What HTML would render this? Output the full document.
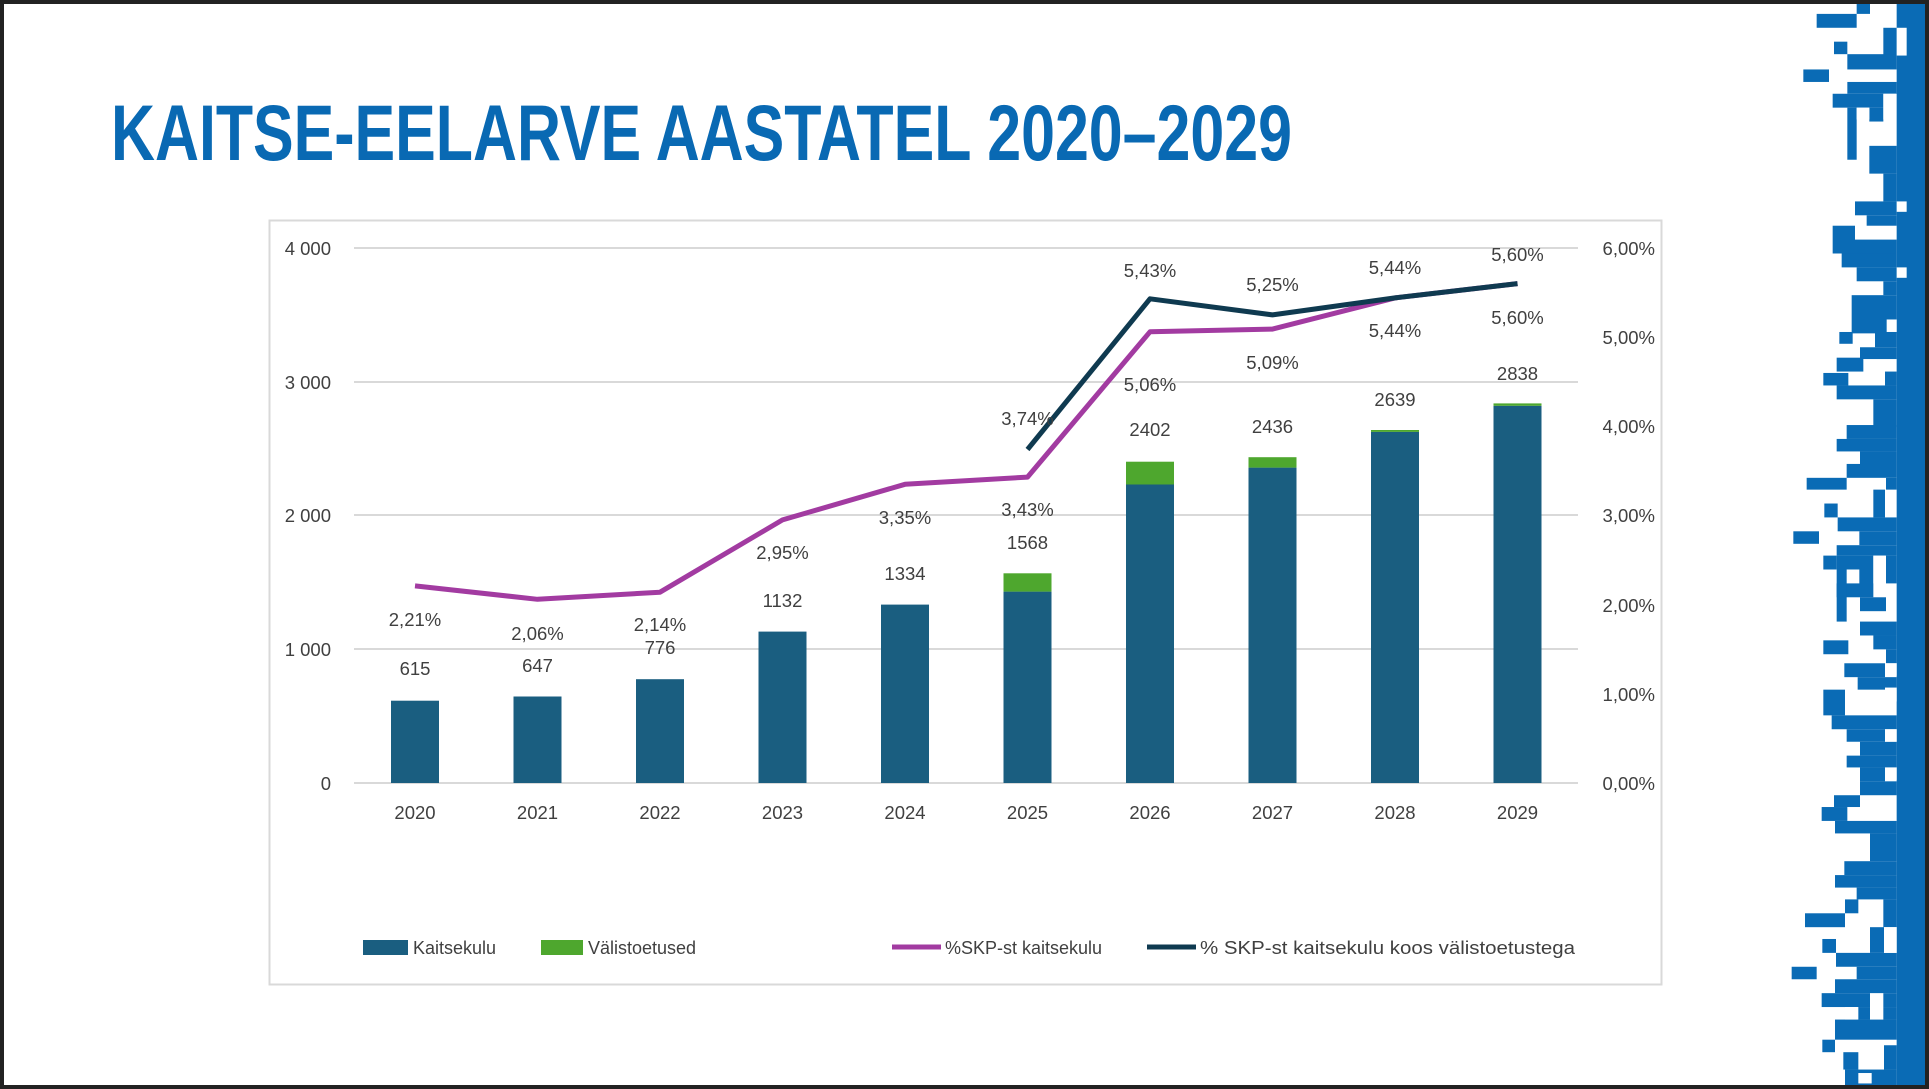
<!DOCTYPE html>
<html><head><meta charset="utf-8"><style>
html,body{margin:0;padding:0;background:#fff;}
body{width:1929px;height:1089px;overflow:hidden;position:relative;}
svg{position:absolute;left:0;top:0;}
text{font-family:"Liberation Sans",sans-serif;fill:#404040;}
</style></head><body>
<svg width="1929" height="1089" viewBox="0 0 1929 1089">
<rect x="0" y="0" width="1929" height="1089" fill="#fff"/>
<text x="111" y="160" font-size="79" font-weight="bold" textLength="1181" lengthAdjust="spacingAndGlyphs" style="fill:#0969b3">KAITSE-EELARVE AASTATEL 2020–2029</text>
<rect x="269.5" y="220.5" width="1392" height="764" fill="none" stroke="#d9d9d9" stroke-width="2"/>
<g stroke="#d9d9d9" stroke-width="2">
<line x1="354" y1="248" x2="1578" y2="248"/>
<line x1="354" y1="382" x2="1578" y2="382"/>
<line x1="354" y1="515" x2="1578" y2="515"/>
<line x1="354" y1="649" x2="1578" y2="649"/>
<line x1="354" y1="783" x2="1578" y2="783"/>
</g>
<g font-size="18.5" text-anchor="end">
<text x="331" y="255">4 000</text>
<text x="331" y="389">3 000</text>
<text x="331" y="522">2 000</text>
<text x="331" y="656">1 000</text>
<text x="331" y="790">0</text>
<text x="1655" y="255">6,00%</text>
<text x="1655" y="344">5,00%</text>
<text x="1655" y="433">4,00%</text>
<text x="1655" y="522">3,00%</text>
<text x="1655" y="612">2,00%</text>
<text x="1655" y="701">1,00%</text>
<text x="1655" y="790">0,00%</text>
</g>
<g fill="#1a5e80">
<rect x="391" y="700.7" width="48" height="82.3"/>
<rect x="513.5" y="696.5" width="48" height="86.5"/>
<rect x="636" y="679.2" width="48" height="103.8"/>
<rect x="758.5" y="631.6" width="48" height="151.4"/>
<rect x="881" y="604.6" width="48" height="178.4"/>
<rect x="1003.5" y="591.6" width="48" height="191.4"/>
<rect x="1126" y="484.5" width="48" height="298.5"/>
<rect x="1248.5" y="467.6" width="48" height="315.4"/>
<rect x="1371" y="431.9" width="48" height="351.1"/>
<rect x="1493.5" y="405.8" width="48" height="377.2"/>
</g>
<g fill="#4ea72e">
<rect x="1003.5" y="573.3" width="48" height="18.3"/>
<rect x="1126" y="461.7" width="48" height="22.8"/>
<rect x="1248.5" y="457.2" width="48" height="10.4"/>
<rect x="1371" y="430" width="48" height="1.9"/>
<rect x="1493.5" y="403.4" width="48" height="2.4"/>
</g>
<polyline fill="none" stroke="#a23ba1" stroke-width="5" stroke-linejoin="round" points="415,585.9 537.5,599.3 660,592.2 782.5,519.9 905,484.3 1027.5,477.1 1150,331.8 1272.5,329.1 1395,297.9 1517.5,283.6"/>
<polyline fill="none" stroke="#0f3a50" stroke-width="5" stroke-linejoin="round" points="1027.5,449.5 1150,298.8 1272.5,314.9 1395,297.9 1517.5,283.6"/>
<g font-size="18.5" text-anchor="middle">
<text x="415" y="626">2,21%</text><text x="415" y="675">615</text>
<text x="537.5" y="640">2,06%</text><text x="537.5" y="672">647</text>
<text x="660" y="631">2,14%</text><text x="660" y="654">776</text>
<text x="782.5" y="559">2,95%</text><text x="782.5" y="607">1132</text>
<text x="905" y="524">3,35%</text><text x="905" y="580">1334</text>
<text x="1027.5" y="425">3,74%</text><text x="1027.5" y="516">3,43%</text><text x="1027.5" y="549">1568</text>
<text x="1150" y="277">5,43%</text><text x="1150" y="391">5,06%</text><text x="1150" y="436">2402</text>
<text x="1272.5" y="291">5,25%</text><text x="1272.5" y="369">5,09%</text><text x="1272.5" y="433">2436</text>
<text x="1395" y="274">5,44%</text><text x="1395" y="337">5,44%</text><text x="1395" y="406">2639</text>
<text x="1517.5" y="261">5,60%</text><text x="1517.5" y="324">5,60%</text><text x="1517.5" y="380">2838</text>
<text x="415" y="819">2020</text><text x="537.5" y="819">2021</text><text x="660" y="819">2022</text>
<text x="782.5" y="819">2023</text><text x="905" y="819">2024</text><text x="1027.5" y="819">2025</text>
<text x="1150" y="819">2026</text><text x="1272.5" y="819">2027</text><text x="1395" y="819">2028</text>
<text x="1517.5" y="819">2029</text>
</g>
<rect x="363" y="940" width="45" height="15" fill="#1a5e80"/>
<text x="413" y="954" font-size="18">Kaitsekulu</text>
<rect x="541" y="940" width="42" height="15" fill="#4ea72e"/>
<text x="588" y="954" font-size="18">Välistoetused</text>
<line x1="892" y1="947" x2="941" y2="947" stroke="#a23ba1" stroke-width="5"/>
<text x="945" y="954" font-size="18">%SKP-st kaitsekulu</text>
<line x1="1147" y1="947" x2="1196" y2="947" stroke="#0f3a50" stroke-width="5"/>
<text x="1200" y="954" font-size="18" textLength="375" lengthAdjust="spacingAndGlyphs">% SKP-st kaitsekulu koos välistoetustega</text>
</svg>
<svg style="left:1760px;top:0" width="169" height="1089" viewBox="0 0 507 1568" preserveAspectRatio="none">
<g fill="#0a6bb5">
<rect x="410" y="0" width="97" height="1568"/>
<rect x="290" y="5" width="40" height="15"/><rect x="170" y="20" width="120" height="20"/>
<rect x="370" y="40" width="40" height="40"/><rect x="222" y="60" width="40" height="18"/>
<rect x="262" y="78" width="148" height="22"/><rect x="130" y="100" width="77" height="18"/>
<rect x="262" y="118" width="148" height="17"/><rect x="218" y="135" width="152" height="20"/>
<rect x="262" y="155" width="28" height="75"/><rect x="328" y="155" width="42" height="20"/>
<rect x="328" y="210" width="82" height="40"/><rect x="370" y="250" width="40" height="40"/>
<rect x="285" y="290" width="125" height="20"/><rect x="320" y="310" width="90" height="15"/>
<rect x="218" y="325" width="67" height="40"/><rect x="285" y="345" width="125" height="20"/>
<rect x="245" y="365" width="165" height="20"/><rect x="290" y="385" width="120" height="20"/>
<rect x="370" y="405" width="40" height="20"/><rect x="275" y="425" width="135" height="55"/>
<rect x="238" y="478" width="40" height="17"/><rect x="345" y="478" width="65" height="22"/>
<rect x="300" y="500" width="110" height="17"/><rect x="230" y="515" width="80" height="20"/>
<rect x="190" y="537" width="75" height="18"/><rect x="375" y="535" width="35" height="20"/>
<rect x="230" y="555" width="180" height="20"/><rect x="340" y="575" width="70" height="40"/>
<rect x="260" y="612" width="150" height="20"/><rect x="230" y="632" width="180" height="18"/>
<rect x="300" y="650" width="110" height="38"/><rect x="260" y="668" width="40" height="20"/>
<rect x="140" y="688" width="120" height="17"/><rect x="378" y="688" width="32" height="17"/>
<rect x="340" y="705" width="35" height="40"/><rect x="193" y="725" width="40" height="20"/>
<rect x="233" y="745" width="177" height="20"/><rect x="100" y="765" width="77" height="18"/>
<rect x="298" y="765" width="112" height="20"/><rect x="230" y="785" width="180" height="15"/>
<rect x="190" y="800" width="40" height="20"/><rect x="230" y="800" width="110" height="60"/>
<rect x="378" y="800" width="32" height="40"/><rect x="230" y="840" width="30" height="55"/>
<rect x="300" y="860" width="78" height="20"/><rect x="300" y="895" width="110" height="20"/>
<rect x="190" y="922" width="75" height="20"/><rect x="340" y="915" width="70" height="20"/>
<rect x="378" y="935" width="32" height="20"/><rect x="253" y="955" width="122" height="20"/>
<rect x="293" y="975" width="117" height="18"/><rect x="190" y="993" width="65" height="37"/>
<rect x="215" y="1030" width="195" height="20"/><rect x="260" y="1050" width="115" height="18"/>
<rect x="300" y="1068" width="110" height="20"/><rect x="260" y="1088" width="150" height="17"/>
<rect x="300" y="1105" width="75" height="20"/><rect x="300" y="1125" width="110" height="20"/>
<rect x="222" y="1145" width="78" height="17"/><rect x="185" y="1162" width="77" height="20"/>
<rect x="225" y="1182" width="185" height="18"/><rect x="330" y="1200" width="80" height="40"/>
<rect x="253" y="1240" width="157" height="20"/><rect x="225" y="1260" width="185" height="18"/>
<rect x="290" y="1278" width="120" height="17"/><rect x="255" y="1295" width="40" height="20"/>
<rect x="370" y="1295" width="40" height="40"/><rect x="135" y="1315" width="120" height="20"/>
<rect x="330" y="1335" width="42" height="37"/><rect x="187" y="1352" width="41" height="20"/>
<rect x="228" y="1372" width="182" height="20"/><rect x="95" y="1392" width="75" height="18"/>
<rect x="290" y="1392" width="120" height="18"/><rect x="225" y="1410" width="185" height="20"/>
<rect x="185" y="1430" width="225" height="20"/><rect x="295" y="1450" width="115" height="18"/>
<rect x="225" y="1468" width="185" height="29"/><rect x="187" y="1497" width="38" height="18"/>
<rect x="250" y="1515" width="45" height="25"/><rect x="372" y="1505" width="38" height="35"/>
<rect x="255" y="1540" width="155" height="28"/>
</g>
<g fill="#fff">
<rect x="410" y="40" width="30" height="40"/><rect x="410" y="290" width="30" height="15"/>
<rect x="410" y="385" width="30" height="15"/><rect x="380" y="460" width="30" height="18"/>
<rect x="340" y="800" width="37" height="40"/><rect x="260" y="820" width="38" height="20"/>
<rect x="375" y="955" width="35" height="18"/><rect x="375" y="990" width="35" height="20"/>
<rect x="375" y="1050" width="35" height="18"/><rect x="375" y="1105" width="35" height="18"/>
<rect x="372" y="1335" width="38" height="37"/><rect x="330" y="1430" width="40" height="38"/>
<rect x="255" y="1450" width="38" height="18"/><rect x="295" y="1545" width="40" height="15"/>
<rect x="290" y="155" width="38" height="17"/><rect x="370" y="135" width="38" height="37"/>
</g>
</svg>
<div style="position:absolute;left:0;top:0;width:1929px;height:1089px;box-sizing:border-box;border:4px solid #222;"></div>
</body></html>
